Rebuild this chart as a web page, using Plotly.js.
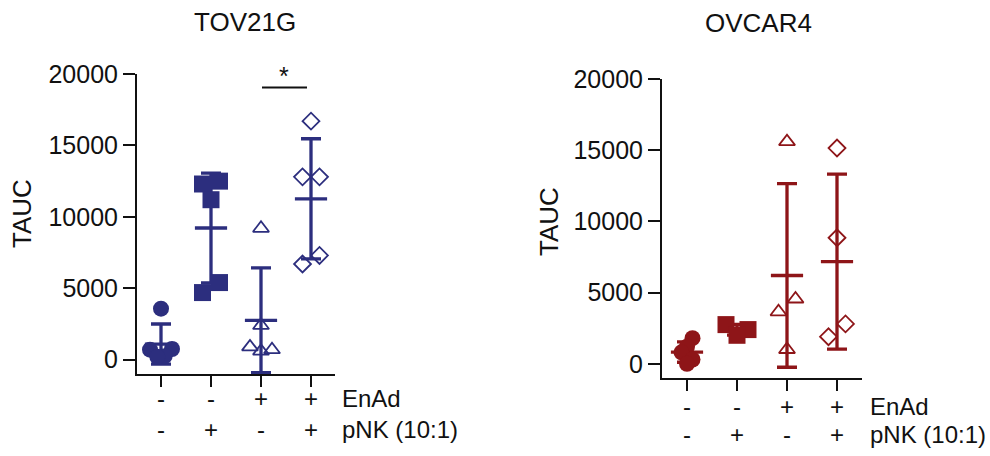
<!DOCTYPE html>
<html>
<head>
<meta charset="utf-8">
<script src="https://cdn.plot.ly/plotly-3.0.1.min.js"></script>
<style>html,body{margin:0;padding:0;background:#fff;}#chart{width:990px;height:456px;}</style>
</head>
<body>
<div id="chart"></div>
<script>
// ---------------- data ----------------
const panelTitles = ['TOV21G', 'OVCAR4'];
const enadLabels = ['-', '-', '+', '+'];
const pnkLabels = ['-', '+', '-', '+'];
const rowNames = ['EnAd', 'pNK (10:1)'];
const yTicks = [0, 5000, 10000, 15000, 20000];

// TOV21G (TAUC per replicate)
const tovCtrl = [3570, 750, 700, 250, 200];
const tovPnk = [12500, 12300, 11200, 5400, 4700];
const tovEnad = [9200, 2400, 900, 700, 600];
const tovEnadPnk = [16700, 12800, 12800, 7300, 6700];

// OVCAR4
const ovCtrl = [1800, 1200, 800, 300, 0];
const ovPnk = [2750, 2400, 2000];
const ovEnad = [15600, 4550, 3650, 1000];
const ovEnadPnk = [15150, 8850, 2800, 1900];

// ---------------- styling / layout ----------------
const W = 990, H = 456;
const FONT = 'Liberation Sans, Arial, Helvetica, sans-serif';
const NAVY = '#2c2e7e';
const RED = '#8e1518';
const AX = '#111111';
const symbols = ['circle', 'square', 'triangle-up-open', 'diamond-open'];
const symSizes = [16, 17, 14, 13];

const panels = [
  {groups: [tovCtrl, tovPnk, tovEnad, tovEnadPnk], color: NAVY, xa: 'x', ya: 'y',
   px: [137, 335], py: [74, 374], xr: [-0.48, 3.48], yr: [-1000, 20000],
   rows: [398, 429], labelX: 340, titleX: 245, titleY: 22, yTitleX: 22, yTitleY: 214},
  {groups: [ovCtrl, ovPnk, ovEnad, ovEnadPnk], color: RED, xa: 'x2', ya: 'y2',
   px: [662, 862], py: [79, 378], xr: [-0.5, 3.5], yr: [-1000, 20000],
   rows: [406, 434], labelX: 868, titleX: 758, titleY: 23, yTitleX: 549, yTitleY: 222}
];

function mean(a) { return a.reduce((s, v) => s + v, 0) / a.length; }
function sd(a) { const m = mean(a); return Math.sqrt(a.reduce((s, v) => s + (v - m) * (v - m), 0) / (a.length - 1)); }

// scatter spreading (Prism-like): rectangular collision, clusters centred and
// compressed to a maximum spread width (tighter for long vertical chains)
function swarm(vals, pxPerY, pxPerX, DX, DY, MAXW) {
  const order = vals.map((v, i) => i).sort((a, b) => vals[a] - vals[b]);
  const placed = [];
  const off = new Array(vals.length).fill(0);
  for (const i of order) {
    const y = vals[i] * pxPerY;
    let o = 0;
    outer: for (let s = 0; s < 400; s += 0.5) {
      const cands = s === 0 ? [0] : [s, -s];
      for (const c of cands) {
        if (placed.every(p => Math.abs(p.y - y) >= DY || Math.abs(p.o - c) >= DX)) { o = c; break outer; }
      }
    }
    placed.push({i, y, o});
    off[i] = o;
  }
  placed.sort((a, b) => a.y - b.y);
  let cl = [placed[0]];
  const flush = () => {
    const os = cl.map(p => p.o);
    const m = (Math.max(...os) + Math.min(...os)) / 2;
    const w = Math.max(...os) - Math.min(...os);
    const span = cl[cl.length - 1].y - cl[0].y;
    const lim = span > 1.5 * DY ? MAXW / 2 : MAXW;
    const k = w > lim ? lim / w : 1;
    cl.forEach(p => off[p.i] = (p.o - m) * k);
  };
  for (let k = 1; k < placed.length; k++) {
    if (placed[k].y - placed[k - 1].y < DY) cl.push(placed[k]);
    else { flush(); cl = [placed[k]]; }
  }
  flush();
  return off.map(o => o / pxPerX);
}

const traces = [];
const pointTraces = [];
const annotations = [];
const layout = {
  width: W, height: H, margin: {l: 0, r: 0, t: 0, b: 0},
  paper_bgcolor: '#fff', plot_bgcolor: 'rgba(0,0,0,0)', showlegend: false,
  font: {family: FONT, color: AX, size: 24},
  annotations: annotations, shapes: []
};

panels.forEach((p, pi) => {
  const pxPerX = (p.px[1] - p.px[0]) / (p.xr[1] - p.xr[0]);
  const pxPerY = (p.py[1] - p.py[0]) / (p.yr[1] - p.yr[0]);
  p.groups.forEach((g, gi) => {
    traces.push({
      type: 'scatter', mode: 'markers', xaxis: p.xa, yaxis: p.ya,
      x: [gi], y: [mean(g)], cliponaxis: false, hoverinfo: 'skip',
      marker: {symbol: 'line-ew', size: 23, color: p.color, line: {color: p.color, width: 3.3}},
      error_y: {type: 'data', array: [sd(g)], visible: true, color: p.color, thickness: 3.3, width: 10}
    });
    const offs = swarm(g, pxPerY, pxPerX, 17, 14, 22);
    const open = symbols[gi].includes('open');
    pointTraces.push({
      type: 'scatter', mode: 'markers', xaxis: p.xa, yaxis: p.ya, cliponaxis: false,
      x: g.map((v, k) => gi + offs[k]), y: g,
      marker: {symbol: symbols[gi], size: symSizes[gi], color: p.color,
               line: {color: p.color, width: open ? 1.8 : 0}}
    });
  });
  const xKey = pi === 0 ? 'xaxis' : 'xaxis2';
  const yKey = pi === 0 ? 'yaxis' : 'yaxis2';
  layout[xKey] = {
    domain: [p.px[0] / W, p.px[1] / W], range: p.xr, anchor: p.ya,
    showline: true, linecolor: AX, linewidth: 2, ticks: 'outside', ticklen: 11,
    tickwidth: 2, tickcolor: AX, tickvals: [0, 1, 2, 3], showticklabels: false,
    showgrid: false, zeroline: false, fixedrange: true
  };
  layout[yKey] = {
    domain: [1 - p.py[1] / H, 1 - p.py[0] / H], range: p.yr, anchor: p.xa,
    showline: true, linecolor: AX, linewidth: 2, ticks: 'outside', ticklen: 12,
    tickwidth: 2, tickcolor: AX, tickvals: yTicks, ticktext: yTicks.map(String),
    tickfont: {family: FONT, size: 25, color: AX},
    showgrid: false, zeroline: false, fixedrange: true
  };
  annotations.push({text: panelTitles[pi], xref: 'paper', yref: 'paper',
    x: p.titleX / W, y: 1 - p.titleY / H, xanchor: 'center', yanchor: 'middle',
    showarrow: false, font: {family: FONT, size: 26, color: AX}});
  annotations.push({text: 'TAUC', xref: 'paper', yref: 'paper', textangle: -90,
    x: p.yTitleX / W, y: 1 - p.yTitleY / H, xanchor: 'center', yanchor: 'middle',
    showarrow: false, font: {family: FONT, size: 26, color: AX}});
  [enadLabels, pnkLabels].forEach((row, ri) => {
    row.forEach((t, ci) => {
      annotations.push({text: t, xref: p.xa, yref: 'paper', x: ci, y: 1 - p.rows[ri] / H,
        xanchor: 'center', yanchor: 'middle', showarrow: false,
        font: {family: FONT, size: 24, color: AX}});
    });
    annotations.push({text: rowNames[ri], xref: 'paper', yref: 'paper',
      x: p.labelX / W, y: 1 - p.rows[ri] / H, xanchor: 'left', yanchor: 'middle',
      showarrow: false, font: {family: FONT, size: 24, color: AX}});
  });
});

// significance bracket (TOV21G, EnAd vs EnAd+pNK)
layout.shapes.push({type: 'line', xref: 'x', yref: 'y', x0: 2.02, x1: 2.92, y0: 19050, y1: 19050,
  line: {color: AX, width: 2}});
annotations.push({text: '*', xref: 'x', yref: 'paper', x: 2.45, y: 1 - 76 / H, xanchor: 'center',
  yanchor: 'middle', showarrow: false, font: {family: FONT, size: 25, color: AX}});

Plotly.newPlot('chart', traces.concat(pointTraces), layout, {staticPlot: true, displayModeBar: false});
</script>
</body>
</html>
